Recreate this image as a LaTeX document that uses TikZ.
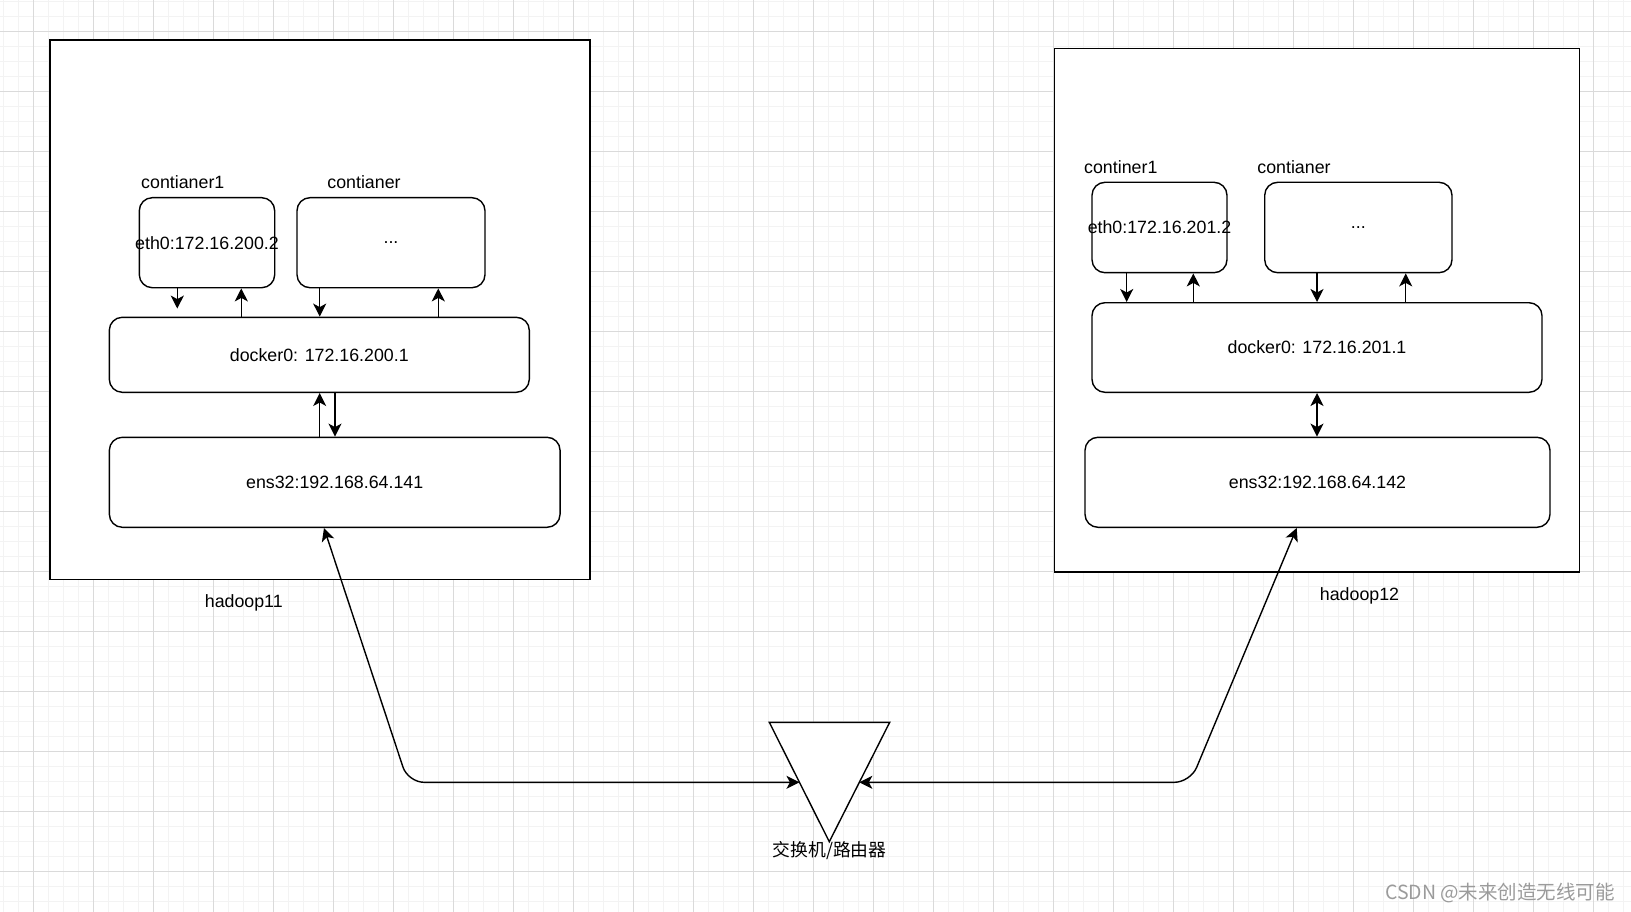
\documentclass[tikz,border=0pt]{standalone}
\usepackage{fontspec}
\setmainfont{Liberation Sans}
\newfontfamily\cjk{Noto Sans CJK SC}
\usetikzlibrary{arrows.meta,calc}

\definecolor{gridmajor}{RGB}{218,218,218}
\definecolor{gridminor}{RGB}{243,243,243}
\definecolor{markgray}{RGB}{155,155,155}

\begin{document}
\begin{tikzpicture}[x=1pt,y=-1pt,
  font=\fontsize{17.8}{21}\selectfont,
  host/.style={draw,fill=white,line width=1.6pt,inner sep=0pt},
  box/.style={draw,fill=white,rounded corners=13pt,line width=1.4pt,inner sep=0pt},
  arr/.style={-{Stealth[length=13pt,width=13pt,inset=3.5pt]},line width=1.4pt},
  dbl/.style={{Stealth[length=13pt,width=13pt,inset=3.5pt]}-{Stealth[length=13pt,width=13pt,inset=3.5pt]},line width=1.4pt}]

% Page and background grid
\useasboundingbox[fill=white] (0,0) rectangle (1631,912);
\foreach \x in {3.3,18.3,...,1631} \draw[gridminor,line width=1pt] (\x,0) -- (\x,912);
\foreach \y in {1.7,16.7,...,912} \draw[gridminor,line width=1pt] (0,\y) -- (1631,\y);
\foreach \x in {33.3,93.3,...,1631} \draw[gridmajor,line width=1pt] (\x,0) -- (\x,912);
\foreach \y in {31.7,91.7,...,912} \draw[gridmajor,line width=1pt] (0,\y) -- (1631,\y);

% Hosts
\node (host1) [host,minimum width=540pt,minimum height=539.4pt] at (320,309.7) {};
\node (host2) [host,minimum width=525pt,minimum height=523.5pt] at (1316.8,310.35) {};
\node (host1-t) at (243.8,602.7) {hadoop11};
\node (host2-t) at (1359.5,596) {hadoop12};

% hadoop11 boxes
\node (c1a) [box,minimum width=135.4pt,minimum height=90pt] at (207,242.7) {};
\node (c1b) [box,minimum width=188pt,minimum height=90pt] at (391,242.7) {};
\node (dock1) [box,minimum width=420pt,minimum height=75pt] at (319.3,354.8) {};
\node (ens1) [box,minimum width=450.7pt,minimum height=90pt] at (334.7,482.3) {};
\node (c1a-t) at (c1a) {eth0:172.16.200.2};
\node (c1b-t) at (c1b) {...};
\node (dock1-t) at (dock1) {docker0: 172.16.200.1};
\node (ens1-t) at (ens1) {ens32:192.168.64.141};
\node (c1a-l) at (182.8,181.7) {contianer1};
\node (c1b-l) at (364,181.7) {contianer};

% hadoop12 boxes
\node (c2a) [box,minimum width=135pt,minimum height=90.4pt] at (1159.5,227.5) {};
\node (c2b) [box,minimum width=187.3pt,minimum height=90.4pt] at (1358.35,227.5) {};
\node (dock2) [box,minimum width=450pt,minimum height=89.6pt] at (1317,347.5) {};
\node (ens2) [box,minimum width=465pt,minimum height=90pt] at (1317.5,482.3) {};
\node (c2a-t) at (c2a) {eth0:172.16.201.2};
\node (c2b-t) at (c2b) {...};
\node (dock2-t) at (dock2) {docker0: 172.16.201.1};
\node (ens2-t) at (ens2) {ens32:192.168.64.142};
\node (c2a-l) at (1120.8,166.7) {continer1};
\node (c2b-l) at (1294,166.7) {contianer};

% container <-> docker0 <-> ens32, hadoop11
\draw[arr,shorten >=8pt] (177.3,0 |- c1a.south) -- (177.3,0 |- dock1.north);
\draw[arr] (241.3,0 |- dock1.north) -- (241.3,0 |- c1a.south);
\draw[arr] (319.7,0 |- c1b.south) -- (319.7,0 |- dock1.north);
\draw[arr] (438.3,0 |- dock1.north) -- (438.3,0 |- c1b.south);
\draw[arr] (319.7,0 |- ens1.north) -- (319.7,0 |- dock1.south);
\draw[arr] (335,0 |- dock1.south) -- (335,0 |- ens1.north);

% container <-> docker0 <-> ens32, hadoop12
\draw[arr] (1126.7,0 |- c2a.south) -- (1126.7,0 |- dock2.north);
\draw[arr] (1193.3,0 |- dock2.north) -- (1193.3,0 |- c2a.south);
\draw[arr] (1317,0 |- c2b.south) -- (1317,0 |- dock2.north);
\draw[arr] (1405.7,0 |- dock2.north) -- (1405.7,0 |- c2b.south);
\draw[dbl] (dock2.south) -- (dock2.south |- ens2.north);

% Switch / router
\coordinate (tl) at (769.3,722.3);
\coordinate (tr) at (889.7,722.3);
\coordinate (tb) at (829.3,841.7);
\draw[fill=white,line width=1.4pt] (tl) -- (tr) -- (tb) -- cycle;
\node (sw-t) at (829.7,851) {\cjk 交换机/路由器};

% Links to the switch
\coordinate (swL) at ($(tl)!0.5025!(tb)$);
\coordinate (swR) at ($(tr)!0.5025!(tb)$);
\coordinate (k1) at (408,782.3);
\coordinate (k2) at (1190.4,782.3);
\draw[dbl,rounded corners=16pt] (324,0 |- ens1.south) -- (k1) -- (swL);
\draw[dbl,rounded corners=16pt] (1296.7,0 |- ens2.south) -- (k2) -- (swR);

\node (mark) [markgray,font=\fontsize{19.5}{22}\selectfont] at (1500,893) {\cjk CSDN @未来创造无线可能};

\end{tikzpicture}
\end{document}
